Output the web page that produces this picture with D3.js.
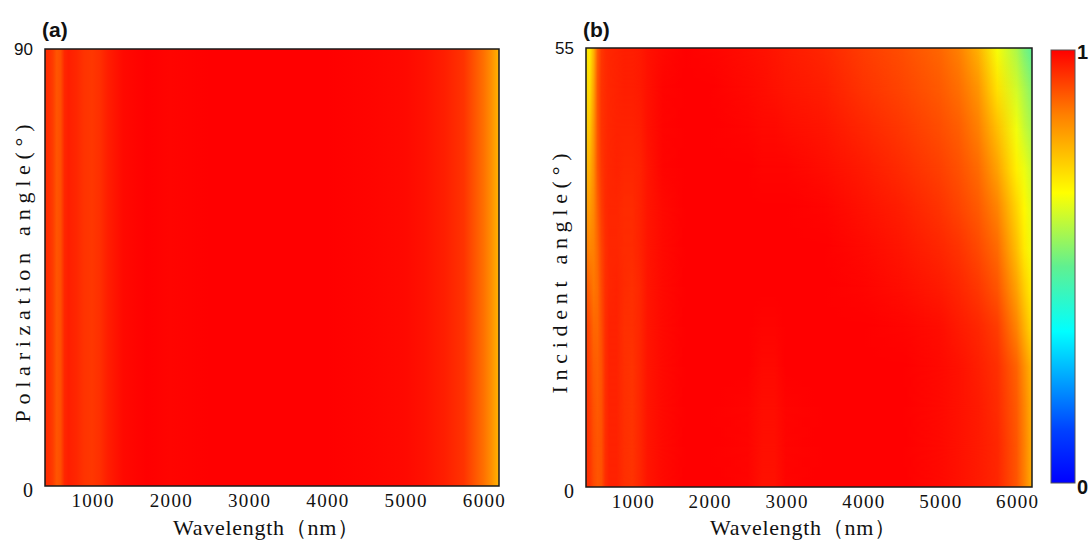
<!DOCTYPE html>
<html><head><meta charset="utf-8">
<script src="https://cdn.jsdelivr.net/npm/d3@7"></script>
<style>body{margin:0;background:#fff;} svg{display:block}</style>
</head><body>
<svg id="chart" width="1090" height="541"></svg>
<script>
// ---------- data ----------
const wavelengths = [400,450,500,550,600,650,700,800,900,1000,1100,1200,1400,1700,2000,2500,2700,2850,3000,3500,4000,4500,5000,5250,5500,5750,6000,6100,6200];
const xTicks = [1000,2000,3000,4000,5000,6000];
const polarizationTicks = [0, 90];
const incidentTicks = [0, 55];
const colorbarTicks = [0, 1];

// panel (a): absorption vs wavelength (independent of polarization angle)
const absorptionA = [0.95,0.945,0.93,0.90,0.91, 0.955,0.965,0.955,0.94,0.935, 0.945,0.965,0.99,1.0,0.995, 1.0,1.0,1.0,1.0,1.0, 1.0,0.995,0.99,0.98,0.965, 0.94,0.87,0.83,0.775];

// panel (b): absorption vs wavelength for each incident angle
const incidentAngles = [0,5,10,15,20,25,30,35,40,45,50,55];
const absB00 = [0.95,0.94,0.915,0.90,0.905, 0.945,0.96,0.96,0.945,0.94, 0.955,0.975,0.99,1,1, 0.995,0.98,0.98,0.995,1, 1,1,0.99,0.98,0.97, 0.955,0.90,0.85,0.785];
const absB05 = [0.95,0.935,0.91,0.90,0.905, 0.945,0.96,0.96,0.945,0.94, 0.955,0.975,0.99,1,1, 0.995,0.982,0.982,0.995,1, 1,1,0.99,0.98,0.97, 0.955,0.90,0.85,0.785];
const absB10 = [0.945,0.93,0.905,0.895,0.905, 0.945,0.96,0.96,0.945,0.94, 0.955,0.975,0.99,1,1, 0.995,0.985,0.985,0.995,1, 1,1,0.99,0.98,0.97, 0.95,0.895,0.845,0.78];
const absB15 = [0.94,0.92,0.895,0.89,0.905, 0.945,0.96,0.96,0.945,0.94, 0.955,0.975,0.99,1,1, 1,0.99,0.99,1,1, 1,1,0.99,0.98,0.965, 0.945,0.885,0.83,0.77];
const absB20 = [0.93,0.91,0.88,0.88,0.91, 0.945,0.96,0.96,0.945,0.945, 0.955,0.975,0.99,1,1, 1,0.995,0.995,1,1, 1,0.995,0.985,0.97,0.955, 0.93,0.845,0.78,0.72];
const absB25 = [0.90,0.88,0.86,0.875,0.915, 0.945,0.955,0.96,0.95,0.945, 0.955,0.975,0.99,1,1, 1,1,1,1,1, 0.995,0.985,0.97,0.955,0.935, 0.90,0.80,0.74,0.69];
const absB30 = [0.86,0.84,0.85,0.88,0.92, 0.945,0.955,0.955,0.95,0.95, 0.96,0.975,0.99,1,1, 1,1,1,1,1, 0.99,0.975,0.955,0.94,0.915, 0.875,0.76,0.70,0.655];
const absB35 = [0.82,0.81,0.84,0.89,0.93, 0.95,0.955,0.955,0.95,0.95, 0.96,0.975,0.99,1,1, 1,1,1,1,0.995, 0.98,0.965,0.94,0.92,0.895, 0.845,0.73,0.68,0.635];
const absB40 = [0.78,0.78,0.83,0.90,0.935, 0.95,0.955,0.96,0.955,0.955, 0.96,0.975,0.995,1,1, 1,0.995,0.995,0.995,0.985, 0.97,0.95,0.925,0.905,0.875, 0.80,0.69,0.65,0.61];
const absB45 = [0.75,0.75,0.82,0.90,0.94, 0.95,0.955,0.96,0.96,0.96, 0.965,0.98,0.995,1,1, 0.995,0.99,0.99,0.985,0.975, 0.955,0.935,0.91,0.89,0.85, 0.76,0.655,0.61,0.575];
const absB50 = [0.73,0.72,0.80,0.90,0.94, 0.95,0.955,0.96,0.965,0.965, 0.97,0.98,0.995,1,1, 0.99,0.985,0.98,0.975,0.965, 0.94,0.92,0.895,0.87,0.82, 0.71,0.62,0.58,0.54];
const absB55 = [0.71,0.70,0.78,0.89,0.935, 0.95,0.955,0.96,0.965,0.965, 0.97,0.98,0.99,1,0.995, 0.985,0.98,0.975,0.97,0.955, 0.93,0.91,0.88,0.85,0.78, 0.66,0.58,0.53,0.49];
const absorptionB = [absB00,absB05,absB10,absB15,absB20,absB25,absB30,absB35,absB40,absB45,absB50,absB55];

// colormap
const cmapStops = [0, 0.12, 0.35, 0.5, 0.67, 0.85, 1];
const cmapColors = ["#0000ff","#0040ff","#00ffff","#60f090","#ffff00","#ff8000","#ff0000"];

// ---------- drawing ----------
const svg = d3.select("#chart");
const defs = svg.append("defs");
const color = d3.scaleLinear().domain(cmapStops).range(cmapColors).clamp(true);

const serif = "'Liberation Serif','DejaVu Serif',serif";
const sans = "'Liberation Sans',Arial,sans-serif";

function rowGradient(id, x, vals) {
  const [r0, r1] = x.range();
  const g = defs.append("linearGradient").attr("id", id)
    .attr("gradientUnits", "userSpaceOnUse")
    .attr("x1", r0).attr("x2", r1).attr("y1", 0).attr("y2", 0);
  g.selectAll("stop").data(wavelengths.map((w, i) => ({w, v: vals[i]}))).join("stop")
    .attr("offset", d => (x(d.w) - r0) / (r1 - r0))
    .attr("stop-color", d => color(d.v));
  return `url(#${id})`;
}

// vertical fade mask for blending rows
const fg = defs.append("linearGradient").attr("id", "fadeGrad")
  .attr("x1", 0).attr("x2", 0).attr("y1", 0).attr("y2", 1);
fg.append("stop").attr("offset", 0).attr("stop-color", "#fff");
fg.append("stop").attr("offset", 1).attr("stop-color", "#000");
defs.append("mask").attr("id", "fadeMask").attr("maskContentUnits", "objectBoundingBox")
  .append("rect").attr("x", 0).attr("y", 0).attr("width", 1).attr("height", 1).attr("fill", "url(#fadeGrad)");

function panel(opts) {
  const {x, y, id, label, yTitle, yTitleLen, yTitleX, yTickVals, drawHeat} = opts;
  const [x0, x1] = x.range();
  const [yb, yt] = y.range();
  defs.append("clipPath").attr("id", "clip" + id)
    .append("rect").attr("x", x0).attr("y", yt).attr("width", x1 - x0).attr("height", yb - yt);
  const gh = svg.append("g").attr("clip-path", `url(#clip${id})`);
  drawHeat(gh);
  svg.append("rect").attr("x", x0).attr("y", yt).attr("width", x1 - x0).attr("height", yb - yt)
    .attr("fill", "none").attr("stroke", "#1a1a1a").attr("stroke-width", 1.5);

  // x axis
  const gx = svg.append("g").attr("transform", `translate(0,${yb})`)
    .call(d3.axisBottom(x).tickValues(xTicks).tickSize(0).tickPadding(8).tickFormat(d3.format("d")));
  gx.select(".domain").remove();
  gx.selectAll("text").attr("font-family", serif).attr("font-size", 19).attr("fill", "#111")
    .attr("textLength", 42).attr("lengthAdjust", "spacing");

  // y axis
  const gy = svg.append("g").attr("transform", `translate(${x0},0)`)
    .call(d3.axisLeft(y).tickValues(yTickVals).tickSize(0).tickPadding(12));
  gy.select(".domain").remove();
  gy.selectAll("text").attr("fill", "#111")
    .attr("font-family", d => d === 0 ? serif : sans)
    .attr("font-size", d => d === 0 ? 20 : 17)
    .attr("dy", d => d === 0 ? "0.5em" : "0.35em");

  // titles
  svg.append("text").attr("x", (x0 + x1) / 2 - 6).attr("y", 535).attr("text-anchor", "middle")
    .attr("font-family", serif).attr("font-size", 22).attr("fill", "#111")
    .attr("textLength", 186).attr("lengthAdjust", "spacing")
    .text("Wavelength（nm）");
  svg.append("text").attr("transform", `translate(${yTitleX},${(yb + yt) / 2 + 6}) rotate(-90)`)
    .attr("text-anchor", "middle").attr("dy", "0.35em")
    .attr("font-family", serif).attr("font-size", 22).attr("fill", "#111")
    .attr("textLength", yTitleLen).attr("lengthAdjust", "spacing")
    .text(yTitle);
  svg.append("text").attr("x", x0 - 3).attr("y", 37)
    .attr("font-family", sans).attr("font-weight", "bold").attr("font-size", 21).attr("fill", "#111")
    .text(label);
}

// panel (a)
const xA = d3.scaleLinear().domain([400, 6200]).range([45, 499]);
const yA = d3.scaleLinear().domain([0, 90]).range([486, 49]);
panel({
  x: xA, y: yA, id: "A", label: "(a)", yTitle: "Polarization angle(°)", yTitleLen: 298, yTitleX: 22,
  yTickVals: polarizationTicks,
  drawHeat: g => {
    const f = rowGradient("gA", xA, absorptionA);
    g.append("rect").attr("x", 45).attr("y", yA(90)).attr("width", 454).attr("height", yA(0) - yA(90)).attr("fill", f);
  }
});

// panel (b)
const xB = d3.scaleLinear().domain([400, 6200]).range([586, 1032]);
const yB = d3.scaleLinear().domain([0, 55]).range([487, 48]);
panel({
  x: xB, y: yB, id: "B", label: "(b)", yTitle: "Incident angle(°)", yTitleLen: 240, yTitleX: 559,
  yTickVals: incidentTicks,
  drawHeat: g => {
    const fills = absorptionB.map((vals, i) => rowGradient("gB" + i, xB, vals));
    const [x0, x1] = xB.range();
    for (let i = 0; i < incidentAngles.length - 1; i++) {
      const yBot = yB(incidentAngles[i]), yTop = yB(incidentAngles[i + 1]);
      g.append("rect").attr("x", x0).attr("y", yTop).attr("width", x1 - x0).attr("height", yBot - yTop + 1).attr("fill", fills[i]);
      g.append("rect").attr("x", x0).attr("y", yTop).attr("width", x1 - x0).attr("height", yBot - yTop)
        .attr("fill", fills[i + 1]).attr("mask", "url(#fadeMask)");
    }
  }
});

// colorbar
const cScale = d3.scaleLinear().domain([0, 1]).range([483, 50]);
const cg = defs.append("linearGradient").attr("id", "cbar").attr("x1", 0).attr("x2", 0).attr("y1", 1).attr("y2", 0);
cg.selectAll("stop").data(cmapStops).join("stop")
  .attr("offset", d => d).attr("stop-color", d => color(d));
svg.append("rect").attr("x", 1051).attr("y", cScale(1)).attr("width", 24).attr("height", cScale(0) - cScale(1))
  .attr("fill", "url(#cbar)").attr("stroke", "#555").attr("stroke-width", 1);
svg.append("g").selectAll("text").data(colorbarTicks).join("text")
  .attr("x", 1077).attr("y", d => cScale(d)).attr("dy", d => d === 1 ? "0.45em" : "0.55em")
  .attr("font-family", sans).attr("font-weight", "bold").attr("font-size", 20).attr("fill", "#111")
  .text(d => d);
</script>
</body></html>
